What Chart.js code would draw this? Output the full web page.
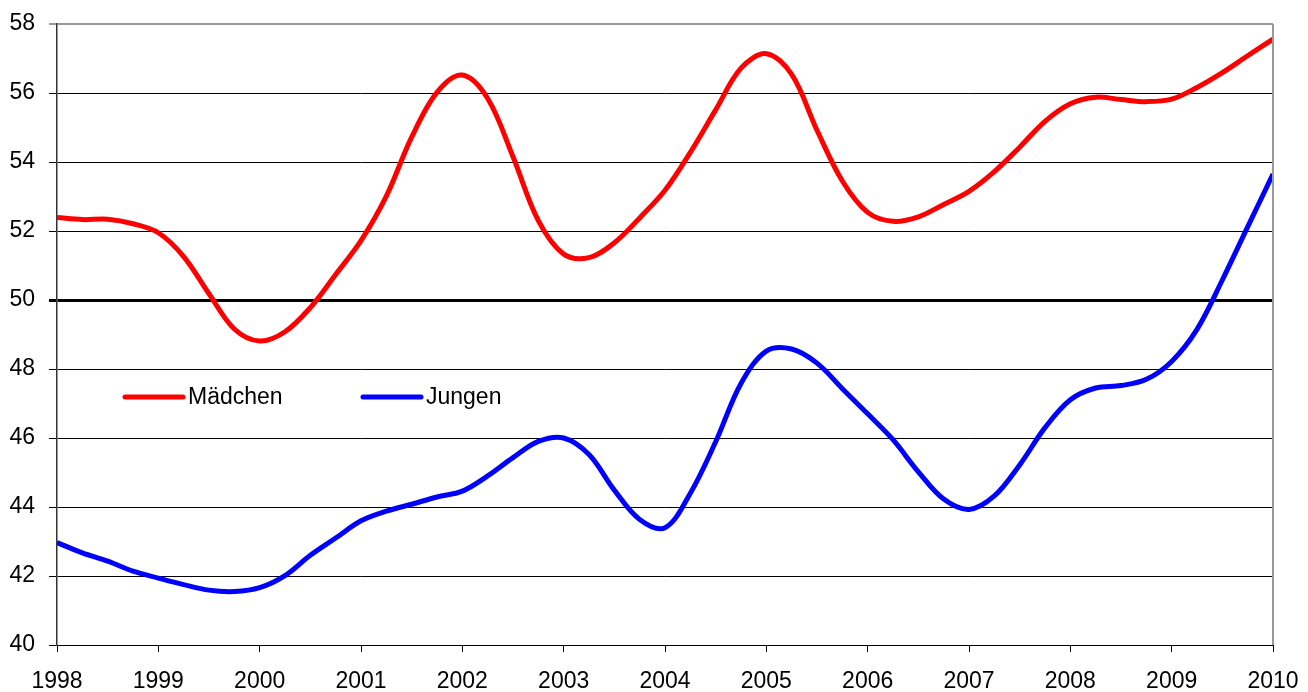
<!DOCTYPE html>
<html>
<head>
<meta charset="utf-8">
<script src="https://cdn.jsdelivr.net/npm/chart.js@4"></script>
<style>
  html, body { margin: 0; padding: 0; background: #fff; }
  #wrap { width: 1308px; height: 692px; }
</style>
</head>
<body>
<div id="wrap"><canvas id="chart" width="1308" height="692"></canvas></div>
<script>
// Zeitpunkte (Quartale)
var zeit = [1998, 1998.25, 1998.5, 1998.75, 1999, 1999.25, 1999.5, 1999.75,
            2000, 2000.25, 2000.5, 2000.75, 2001, 2001.25, 2001.5, 2001.75,
            2002, 2002.25, 2002.5, 2002.75, 2003, 2003.25, 2003.5, 2003.75,
            2004, 2004.25, 2004.5, 2004.75, 2005, 2005.25, 2005.5, 2005.75,
            2006, 2006.25, 2006.5, 2006.75, 2007, 2007.25, 2007.5, 2007.75,
            2008, 2008.25, 2008.5, 2008.75, 2009, 2009.25, 2009.5, 2009.75, 2010];

var maedchen = [52.39, 52.33, 52.34, 52.21, 51.95, 51.26, 50.18, 49.16,
                48.81, 49.08, 49.78, 50.74, 51.72, 53.01, 54.72, 56.02,
                56.52, 55.84, 54.15, 52.30, 51.33, 51.23, 51.66, 52.38,
                53.18, 54.28, 55.51, 56.72, 57.14, 56.54, 54.92, 53.45,
                52.54, 52.28, 52.41, 52.77, 53.15, 53.72, 54.43, 55.18,
                55.69, 55.88, 55.81, 55.75, 55.82, 56.16, 56.59, 57.08, 57.56];

var jungen = [42.97, 42.67, 42.43, 42.14, 41.94, 41.75, 41.59, 41.55,
              41.66, 42.01, 42.60, 43.10, 43.60, 43.88, 44.08, 44.29,
              44.46, 44.90, 45.43, 45.90, 46.00, 45.52, 44.49, 43.64,
              43.40, 44.40, 45.89, 47.58, 48.52, 48.58, 48.17, 47.43,
              46.70, 45.95, 45.02, 44.23, 43.93, 44.32, 45.22, 46.30,
              47.11, 47.45, 47.52, 47.70, 48.22, 49.15, 50.58, 52.12, 53.65];

var serienNamen = ["Mädchen", "Jungen"];
var yMin = 40, yMax = 58, yStep = 2;
var xMin = 1998, xMax = 2010;

function punkte(werte) {
    return werte.map(function (v, i) { return { x: zeit[i], y: v }; });
}

var schrift = "'Liberation Sans', Arial, sans-serif";

// Legende im Diagramm + grauer Rahmen rechts
var extras = {
    id: 'extras',
    afterDraw: function (chart) {
        var ctx = chart.ctx;
        var a = chart.chartArea;
        ctx.save();
        ctx.strokeStyle = '#999999';
        ctx.lineWidth = 2;
        ctx.beginPath();
        ctx.moveTo(a.right, a.top);
        ctx.lineTo(a.right, a.bottom);
        ctx.stroke();

        var pos = [[125, 397], [363, 397]];
        ctx.font = '23px ' + schrift;
        ctx.textBaseline = 'middle';
        chart.data.datasets.forEach(function (ds, i) {
            var p = pos[i];
            ctx.strokeStyle = ds.borderColor;
            ctx.lineWidth = 5;
            ctx.lineCap = 'round';
            ctx.beginPath();
            ctx.moveTo(p[0], p[1]);
            ctx.lineTo(p[0] + 58, p[1]);
            ctx.stroke();
            ctx.fillStyle = '#000';
            ctx.fillText(ds.label, p[0] + 63, p[1] + 1);
        });
        ctx.restore();
    }
};

var ctx = document.getElementById("chart").getContext("2d");
var chart = new Chart(ctx, {
    type: 'line',
    data: {
        datasets: [{
            label: serienNamen[0],
            data: punkte(maedchen),
            borderColor: '#FF0000',
            borderWidth: 5,
            pointRadius: 0,
            tension: 0.35
        }, {
            label: serienNamen[1],
            data: punkte(jungen),
            borderColor: '#0000FF',
            borderWidth: 5,
            pointRadius: 0,
            tension: 0.35
        }]
    },
    options: {
        responsive: false,
        animation: false,
        layout: {
            padding: { top: 24, right: 35, left: 0, bottom: 0 }
        },
        scales: {
            x: {
                type: 'linear',
                min: xMin,
                max: xMax,
                afterFit: function (scale) {
                    scale.height = 47;
                    scale.paddingLeft = 0;
                    scale.paddingRight = 0;
                },
                border: { color: '#000', width: 1 },
                grid: {
                    drawOnChartArea: false,
                    drawTicks: true,
                    tickLength: 7,
                    color: '#000'
                },
                ticks: {
                    stepSize: 1,
                    padding: 16,
                    maxRotation: 0,
                    color: '#000',
                    font: { family: schrift, size: 23 },
                    callback: function (v) { return String(v); }
                }
            },
            y: {
                min: yMin,
                max: yMax,
                afterFit: function (scale) {
                    scale.width = 57;
                    scale.paddingTop = 0;
                    scale.paddingBottom = 0;
                },
                border: { color: '#333', width: 1.5 },
                grid: {
                    drawTicks: true,
                    tickLength: 8,
                    color: function (c) {
                        if (c.tick && c.tick.value === yMax) return '#999999';
                        return '#000';
                    },
                    lineWidth: function (c) {
                        if (c.tick && c.tick.value === 50) return 3;
                        if (c.tick && c.tick.value === yMax) return 2;
                        return 1;
                    }
                },
                ticks: {
                    stepSize: yStep,
                    padding: 14,
                    color: '#000',
                    font: { family: schrift, size: 23 }
                }
            }
        },
        plugins: {
            legend: { display: false },
            tooltip: { enabled: false }
        }
    },
    plugins: [extras]
});
</script>
</body>
</html>
